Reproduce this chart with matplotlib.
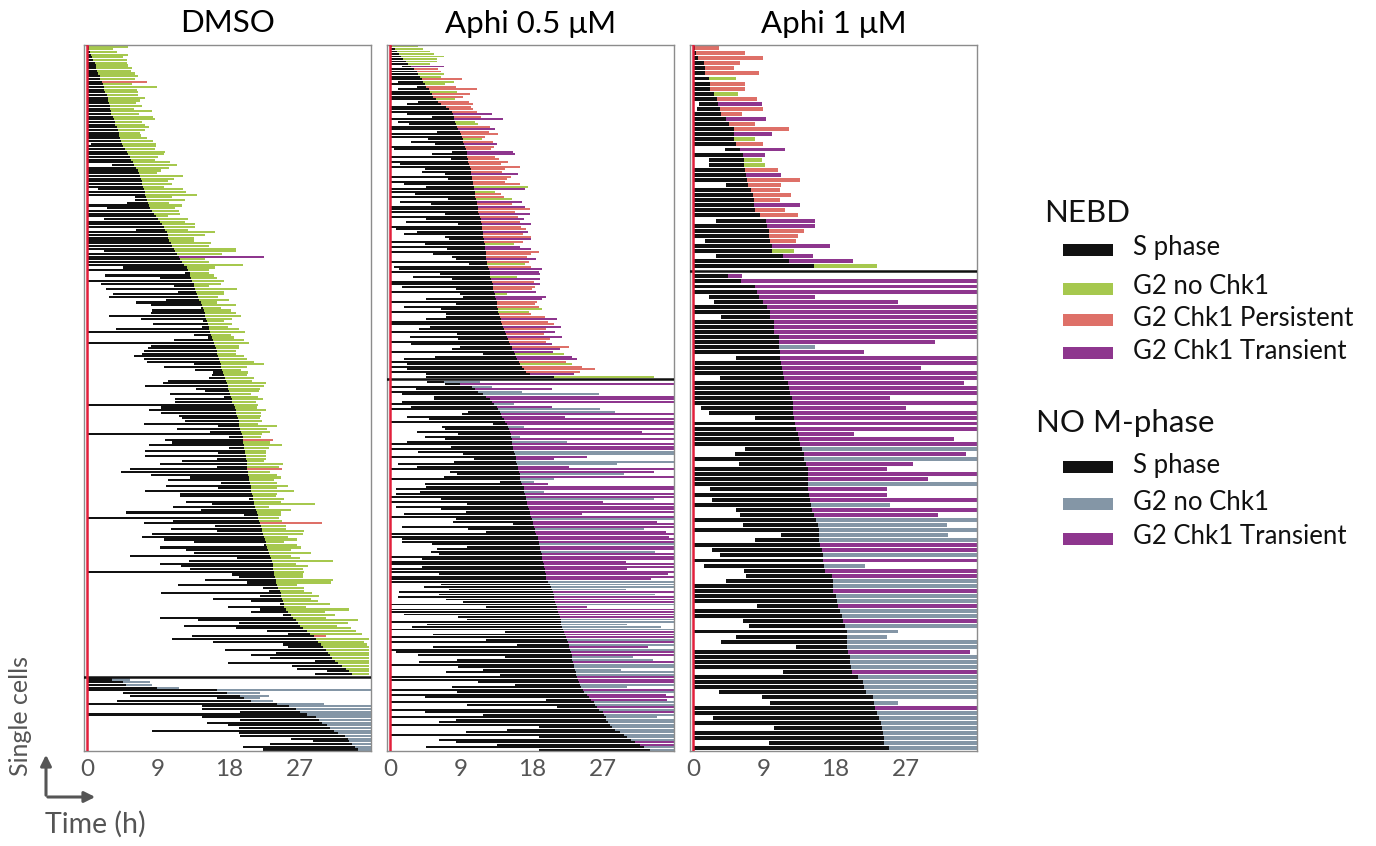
import numpy as np
import matplotlib
matplotlib.use('Agg')
import matplotlib.pyplot as plt
from matplotlib.patches import Rectangle, FancyArrowPatch

plt.rcParams['font.family'] = ['Lato', 'DejaVu Sans']

W, H = 1376, 846

BLACK = '#111111'
GREEN = '#a6c84e'
PINK = '#de7068'
PURPLE = '#8e368e'
GREY = '#8496a6'
RED = '#e2203c'
TXT = '#555555'
COLORS = {'G': GREEN, 'P': PINK, 'T': PURPLE, 'N': GREY}

titles = ['DMSO', 'Aphi 0.5 μM', 'Aphi 1 μM']
xticks = [0, 9, 18, 27]

# ---- DMSO, cells entering mitosis (NEBD) ----
dmso_nebd_start = [
    0, 0, 0, 0, 0, 0, 0, 0, 0, 0,
    0, 0, 0, 0, 0, 0, 0, 0, 0, 0,
    0, 0, 0, 0, 0, 0, 0, 0, 0, 0,
    0, 0, 0, 0, 0, 0, 0.5, 0, 0, 0,
    0, 0, 0, 0, 3.2, 0, 0, 0, 0, 0,
    0, 0, 0, 1.4, 0, 0, 6.1, 6.1, 5.1, 0,
    2.5, 0, 0, 0, 2.2, 0, 0, 0, 6.2, 0,
    0, 0, 0, 0, 0, 0, 2.2, 0, 0, 0,
    0, 0, 4.5, 0, 12.4, 2.3, 9.3, 0, 1.8, 11.0,
    2.4, 11.5, 3.3, 2.8, 10.0, 6.2, 8.1, 14.4, 8.2, 8.1,
    2.8, 6.8, 14.7, 8.3, 14.5, 3.7, 0, 13.5, 15.3, 11.0,
    0, 8.1, 7.7, 7.2, 7.0, 6.0, 7.2, 7.6, 13.5, 9.8,
    13.7, 16.0, 15.8, 15.5, 10.2, 9.6, 7.4, 13.8, 15.0, 10.5,
    17.4, 11.2, 11.1, 0, 9.4, 7.8, 9.4, 11.6, 12.0, 12.4,
    7.2, 16.6, 11.4, 15.6, 0, 18.0, 9.9, 10.7, 7.9, 18.0,
    7.4, 16.6,
    7.4, 16.4, 12.0, 9.2, 16.4, 5.4, 4.3, 8.1, 13.0, 10.2,
    16.9, 10.0, 16.6, 7.3, 11.8, 11.8, 20.5, 12.5, 15.8, 10.9,
    14.4, 4.9, 19.9, 0, 10.9, 7.2, 16.2, 10.6, 16.4, 8.2,
    6.9, 9.7, 13.5, 22.4, 9.2, 12.5, 13.5, 5.5, 19.0, 12.9,
    9.2, 11.9, 13.0, 0, 18.4, 19.2, 14.9, 20.2, 11.5, 22.3,
    23.0, 9.4, 21.9, 15.9, 20.8, 24.4, 17.9, 21.9, 20.8, 24.8,
    9.3, 14.0, 19.2, 12.3, 18.9, 22.8, 25.5, 13.3, 10.8, 15.9,
    24.8, 25.5, 17.5, 23.9, 20.7, 23.2, 28.8, 17.9, 25.9, 26.6,
    30.4, 28.9,
]
dmso_nebd_send = [
    0.2, 0.3, 0.4, 0.5, 0.6, 0.8, 1.0, 1.1, 1.2, 1.3,
    1.4, 1.6, 1.7, 1.9, 2.0, 2.1, 2.2, 2.3, 2.5, 2.6,
    2.7, 2.8, 2.9, 2.9, 3.0, 3.1, 3.3, 3.4, 3.5, 3.6,
    3.8, 3.9, 4.0, 4.1, 4.2, 4.3, 4.4, 4.6, 4.8, 5.0,
    5.2, 5.4, 5.6, 5.8, 6.0, 6.2, 6.4, 6.6, 6.7, 6.8,
    6.9, 7.0, 7.1, 7.2, 7.3, 7.4, 7.5, 7.6, 7.7, 7.9,
    8.0, 8.2, 8.5, 8.7, 9.0, 9.3, 9.5, 9.7, 9.9, 10.1,
    10.2, 10.3, 10.4, 10.6, 10.8, 11.0, 11.2, 11.4, 11.6, 11.8,
    12.0, 12.3, 12.6, 12.8, 13.0, 13.1, 13.2, 13.3, 13.5, 13.6,
    13.7, 13.8, 13.9, 14.0, 14.2, 14.4, 14.6, 14.7, 14.8, 14.9,
    15.0, 15.1, 15.2, 15.3, 15.4, 15.5, 15.6, 15.7, 15.8, 16.0,
    16.1, 16.2, 16.3, 16.4, 16.5, 16.6, 16.7, 16.8, 16.9, 17.0,
    17.1, 17.2, 17.3, 17.5, 17.6, 17.7, 17.8, 17.9, 18.0, 18.1,
    18.2, 18.3, 18.4, 18.6, 18.7, 18.8, 18.9, 19.0, 19.1, 19.2,
    19.2, 19.3, 19.4, 19.5, 19.6, 19.7, 19.7, 19.8, 19.9, 19.9,
    20.0, 20.0, 20.1, 20.1, 20.2, 20.2, 20.3, 20.3, 20.4, 20.4,
    20.5, 20.5, 20.6, 20.7, 20.7, 20.8, 20.9, 21.0, 21.0, 21.1,
    21.2, 21.3, 21.4, 21.5, 21.6, 21.7, 21.8, 21.9, 22.0, 22.1,
    22.2, 22.3, 22.4, 22.5, 22.6, 22.7, 22.8, 22.9, 23.0, 23.2,
    23.3, 23.4, 23.5, 23.5, 23.6, 23.7, 23.7, 23.8, 23.9, 23.9,
    24.0, 24.2, 24.4, 24.5, 24.6, 24.7, 24.8, 24.9, 25.0, 25.2,
    25.5, 25.8, 26.1, 26.4, 26.7, 27.0, 27.4, 27.8, 28.2, 28.7,
    29.0, 29.3, 29.6, 29.9, 30.2, 30.5, 30.8, 31.0, 31.4, 31.8,
    32.3, 32.8, 33.2, 33.5,
]
dmso_nebd_g2end = [
    5.2, 3.3, 3.8, 5.2, 4.5, 5.0, 5.1, 5.2, 5.7, 5.6,
    6.1, 6.5, 6.1, 7.6, 5.7, 8.9, 6.3, 6.5, 6.4, 7.3,
    6.7, 6.2, 6.9, 5.9, 8.2, 6.6, 8.4, 8.6, 7.0, 7.4,
    7.8, 7.3, 6.7, 6.8, 7.6, 8.4, 8.7, 8.7, 8.6, 9.9,
    9.7, 9.0, 8.6, 10.5, 11.4, 10.4, 9.4, 8.9, 12.1, 11.0,
    10.2, 10.7, 9.7, 12.2, 12.5, 13.9, 10.7, 12.4, 10.4, 12.0,
    11.1, 11.6, 11.8, 10.3, 12.8, 12.4, 13.7, 13.7, 12.8, 16.2,
    15.0, 13.5, 13.5,
    15.7, 15.4, 18.8, 18.8, 17.1, 22.4, 15.0, 15.4, 19.7, 16.2,
    15.4, 15.5, 16.1, 16.5, 17.3, 16.9, 15.4, 19.0, 17.3, 17.3,
    16.6, 18.0, 16.4, 18.8, 16.9, 18.2, 18.9, 19.5, 18.4, 17.3,
    18.4, 17.8, 19.2, 20.0, 18.2, 18.6, 19.9, 20.5, 19.2, 19.2,
    18.8, 18.9, 19.9, 20.3, 21.1, 22.4, 20.3, 19.5, 20.4, 20.3,
    21.1, 20.9, 22.7, 22.4, 21.9, 21.8, 20.7, 21.6, 22.3, 21.4,
    21.6, 21.5, 22.6, 22.0, 22.0, 21.9, 22.2, 21.6, 24.0, 22.8,
    23.2, 22.2, 22.0, 23.6, 23.2, 24.7, 23.0, 22.7, 22.6,
    22.6, 22.6, 22.4, 24.8, 24.3, 24.7, 23.2, 24.1, 24.5, 23.7,
    24.0, 25.4, 24.1, 26.2, 24.0, 23.9, 24.9, 24.5, 28.8, 23.0,
    25.8, 24.5, 24.5, 24.3, 24.7, 29.7, 25.2, 25.2, 27.5, 27.3,
    25.4, 26.6, 24.9, 26.6, 27.1, 25.8, 28.4, 25.8, 27.0, 31.1,
    26.4, 28.0, 27.3, 27.5, 27.3, 27.3, 31.2, 30.9, 26.6, 27.5,
    27.5, 28.5, 29.4, 28.3, 29.2, 30.8, 27.7, 33.2, 30.1, 31.4,
    30.2, 34.3, 33.0, 31.7, 33.4, 34.0, 34.8, 30.2, 35.7, 35.1,
    35.5, 35.7, 35.7, 35.7, 35.7, 35.7, 35.7, 35.7, 35.7, 35.7,
    35.7, 35.7,
]
# G = G2 no Chk1, P = G2 Chk1 persistent, T = G2 Chk1 transient, N = G2 no Chk1 (no M-phase)
dmso_nebd_kind = (
    "GGGGGGGGGG GGGPGGGGGG GGGGGGGGGG GGGGGGGGGG GGGGGGGGGG "
    "GGGGGGGGGG GGGGGGGGGG GGGGGGGGTG GGGGGGGGGG GGGGGGGGGG "
    "GGGGGGGGGG GGGGGGGGGG GGGGGGGGGG GGGGGGGGGG GGGGGGPGGG "
    "GGGGGGGPGG GGGGGGGGGG GGGGGGGPGG GGGGGGGGGG GGGGGGGGGG "
    "GGGGGGGGGG GGGGGGGGGP GGGGGGGGGG GGGG"
)

# ---- DMSO, no M-phase ----
dmso_nom_start = [0, 0, 0, 0, 0, 4.6, 5.4, 16.5, 3.8, 0,
                  14.6, 14.6, 19.4, 0, 14.5, 19.4, 15.2, 17.8, 19.2, 8.2,
                  19.2, 19.4, 25.8, 28.6, 23.2, 19.7, 22.3]
dmso_nom_send = [3.2, 4.6, 4.9, 8.8, 16.4, 17.7, 19.4, 19.9, 20.8, 24.0,
                 25.6, 26.4, 27.0, 27.8, 29.0, 29.4, 29.7, 30.4, 30.8, 31.3,
                 31.8, 32.7, 33.0, 33.2, 33.5, 33.9, 34.3]
dmso_nom_g2end = [5.5, 8.0, 8.2, 11.7, 36, 21.9, 23.0, 21.9, 23.5, 30.0,
                  36, 36, 36, 36, 36, 36, 36, 36, 36, 36,
                  36, 36, 36, 36, 36, 36, 36]
dmso_nom_kind = "NNNNNNNNNN NNNNNNNNNN NNNNNNN"

# ---- Aphi 0.5 uM, NEBD ----
a05_nebd_start = [
    0, 0, 0, 0, 0, 0, 0, 0, 1.5, 0,
    0, 0, 0, 0, 1.0, 0, 3.4, 1.0, 0, 0,
    0, 0, 3.6, 2.1, 0, 0, 0, 2.1, 5.3, 0,
    1.0, 2.4, 0, 0, 5.9, 0, 0, 4.8, 2.7, 5.7,
    0, 0.5, 7.9, 5.3, 0, 7.7, 0, 1.3, 0, 4.4,
    4.0, 6.9, 0, 7.3, 0, 1.8, 4.6, 0, 0, 3.2,
    0, 7.3, 1.3, 5.2, 0, 0, 0, 6.9, 0, 4.6,
    2.0, 8.6, 0, 0.7, 3.4, 1.8, 7.0, 7.5, 0, 4.4,
    0, 7.2, 0, 5.5, 7.8, 8.4, 0, 10.0, 0.5, 1.2,
    0, 6.3, 2.9, 7.8, 0, 0, 1.5, 8.4, 0, 8.8,
    9.2, 4.6, 0, 8.3, 1.8, 6.5, 0, 7.1, 7.1, 4.6,
    0, 0, 5.1, 3.7, 0, 8.5, 2.5, 8.6, 0, 2.6,
    8.9, 7.8, 0, 11.8, 5.7, 1.8, 0, 2.1, 0, 2.1,
    0, 4.6, 4.6,
]
a05_nebd_send = [
    0.3, 0.6, 0.9, 1.2, 1.4, 1.7, 2.0, 2.3, 2.7, 3.1,
    3.4, 3.6, 3.8, 4.0, 4.2, 4.4, 4.6, 4.9, 5.1, 5.3,
    5.5, 5.8, 6.1, 6.5, 7.1, 7.5, 7.8, 8.0, 8.1, 8.1,
    8.2, 8.3, 8.5, 8.6, 8.8, 9.0, 9.1, 9.2, 9.3, 9.4,
    9.5, 9.6, 9.7, 9.8, 9.8, 9.9, 9.9, 10.0, 10.1, 10.2,
    10.2, 10.3, 10.4, 10.4, 10.5, 10.5, 10.6, 10.6, 10.7, 10.8,
    10.8, 10.9, 11.0, 11.0, 11.1, 11.1, 11.2, 11.3, 11.4, 11.5,
    11.5, 11.6, 11.7, 11.7, 11.8, 11.8, 11.8, 11.9, 11.9, 12.0,
    12.0, 12.0, 12.1, 12.1, 12.2, 12.2, 12.3, 12.3, 12.4, 12.5,
    12.6, 12.6, 12.7, 12.8, 12.9, 13.0, 13.0, 13.1, 13.2, 13.3,
    13.3, 13.4, 13.5, 13.5, 13.6, 13.7, 13.7, 13.8, 13.9, 14.0,
    14.1, 14.2, 14.3, 14.4, 14.6, 14.7, 14.8, 15.0, 15.1, 15.2,
    15.4, 15.5, 15.7, 15.8, 16.0, 16.1, 16.3, 16.5, 16.7, 16.9,
    17.2, 17.7, 20.7,
]
a05_nebd_g2end = [
    3.6, 4.2, 5.1, 5.6, 6.8, 6.0, 5.9, 5.0, 6.8, 6.1,
    6.4, 6.8, 6.5, 9.1, 8.1, 7.0, 8.4, 11.0, 8.5, 10.1,
    9.3, 8.2, 10.0, 10.5, 10.2, 10.5, 11.0, 12.9, 11.5, 14.3,
    10.8, 11.2, 12.7, 13.3, 12.5, 13.7, 12.0, 11.6, 13.0, 13.5,
    13.2, 12.8, 15.6, 15.8, 13.3, 13.8, 15.0, 14.0, 16.5, 14.6,
    14.2, 16.2, 15.3, 14.8, 14.5, 16.5, 17.5, 17.1, 13.3, 14.1,
    14.4, 15.4, 16.7, 15.5, 17.1, 17.7, 15.8, 17.7, 16.2, 17.0,
    16.5, 17.8, 16.6, 17.2, 17.5, 16.8, 17.8, 17.9, 16.8, 15.7,
    16.5, 17.8, 18.8, 17.8, 17.4, 18.5, 17.6, 17.1, 17.9, 19.2,
    18.8, 19.0, 16.1, 19.0, 18.2, 19.0, 18.4, 18.0, 18.5, 14.8,
    19.7, 19.3, 18.6, 18.4, 18.9, 19.2, 17.6, 17.8, 19.6, 21.1,
    20.0, 20.7, 21.6, 19.8, 20.9, 19.5, 21.8, 20.3, 19.8, 20.5,
    22.6, 21.5, 20.6, 22.0, 23.0, 23.7, 22.3, 23.0, 24.3, 26.0,
    24.0, 23.3, 33.4,
]
a05_nebd_kind = (
    "GGGGGGGGTP PGGPGGPPGP PGPPPPPTPT GGPTPPPGPT PPTTPPPPPP "
    "PTPPPPGTGP PGTPTPPTPT PTPPTPPTPG TTPPPTPGPT TTGTPTPPTG "
    "TTPPPGGPPT PPTPTPTPPT PTTGTTPGPP PTG"
)

# ---- Aphi 0.5 uM, no M-phase ----
a05_nom_start = [
    4.7, 6.9, 0, 3.3, 0, 1.5, 5.6, 5.6, 1.5, 0,
    2.6, 0, 9.9, 9.1, 2.1, 4.9, 0, 13.0, 6.6, 7.0,
    3.4, 8.6, 4.4, 6.9, 2.1, 0, 7.7, 0, 3.6, 9.2,
    0, 10.6, 8.1, 1.0, 3.4, 0, 7.6, 8.5, 6.8, 0,
    13.9, 4.4, 4.6, 0.8, 3.8, 0.8, 0, 6.5, 0, 9.7,
    0.8, 6.5, 9.6, 1.8, 0, 8.4, 8.0, 15.6, 1.5, 9.9,
    12.2, 0, 0, 1.5, 1.5, 5.3, 9.8, 5.9, 5.2, 6.2,
    0, 4.0, 0, 0, 4.1, 0, 0, 6.2, 0, 0,
    0, 6.5, 4.3, 7.5, 1.1, 6.2, 1.0, 7.1, 9.2, 0,
    12.1, 0, 0, 1.8, 8.6, 9.7, 0, 4.7, 2.8, 0,
    14.6, 5.4, 0, 12.1, 0, 16.1, 5.5, 0, 0.8, 3.5,
    14.6, 8.5, 3.7, 0, 8.6, 11.8, 7.1, 13.9, 0, 0,
    11.2, 15.8, 7.8, 0, 8.5, 0, 4.4, 19.7, 0, 9.7,
    21.1, 0, 4.4, 11.8, 0, 8.3, 6.2, 0, 18.8, 14.8,
    9.6, 0, 18.9, 6.2, 8.3, 13.5, 4.6, 18.8,
]
a05_nom_send = [
    6.8, 8.9, 10.4, 10.8, 11.2, 11.8, 12.2, 12.6, 12.9, 13.2,
    13.5, 13.7, 13.9, 14.0, 14.2, 14.4, 14.5, 14.8, 15.0, 15.1,
    15.2, 15.3, 15.3, 15.4, 15.4, 15.5, 15.6, 15.6, 15.7, 15.8,
    15.9, 15.9, 16.0, 16.1, 16.2, 16.2, 16.3, 16.4, 16.5, 16.5,
    16.6, 16.7, 16.9, 16.9, 17.0, 17.1, 17.2, 17.2, 17.3, 17.4,
    17.5, 17.6, 17.7, 17.7, 17.8, 18.0, 18.1, 18.1, 18.2, 18.3,
    18.4, 18.5, 18.7, 18.7, 18.8, 18.9, 19.0, 19.0, 19.1, 19.2,
    19.2, 19.3, 19.4, 19.5, 19.5, 19.6, 19.6, 19.7, 19.7, 19.8,
    20.0, 20.3, 20.4, 20.5, 20.6, 20.7, 20.7, 20.8, 20.9, 21.0,
    21.1, 21.2, 21.3, 21.4, 21.5, 21.6, 21.6, 21.7, 21.8, 21.9,
    22.0, 22.1, 22.3, 22.4, 22.5, 22.6, 22.7, 22.8, 22.9, 23.0,
    23.0, 23.1, 23.2, 23.3, 23.3, 23.4, 23.5, 23.6, 23.7, 23.8,
    23.9, 24.0, 24.2, 24.4, 24.6, 24.9, 25.2, 25.5, 25.8, 26.0,
    26.2, 26.5, 26.9, 27.1, 27.3, 27.4, 27.6, 27.9, 28.1, 28.5,
    29.1, 29.6, 30.0, 30.5, 31.0, 31.6, 32.2, 32.9,
]
a05_nom_g2end = [
    11.4, 36, 12.9, 20.5, 16.7, 26.4, 36, 36, 36, 15.7,
    20.5, 26.6, 28.5, 36, 22.2, 36, 36, 36, 16.9, 36,
    31.9, 36, 16.5, 36, 22.4, 36, 36, 36, 36, 36,
    24.9, 20.7, 36, 28.7, 22.6, 36, 33.4, 29.6, 36, 20.7,
    18.2, 20.0, 36, 36, 19.5, 36, 36, 33.4, 27.0, 36,
    36, 36, 36, 24.3, 36, 36, 33.8, 36, 36, 32.1,
    34.9, 36, 35.3, 36, 36, 36, 36, 36, 33.6, 36,
    36, 36, 29.9, 36, 36, 30.0, 36, 35.2, 36, 33.1,
    36, 36, 36, 29.9, 36, 33.5, 36, 36, 36, 36,
    24.9, 36, 36, 36, 36, 36, 36, 30.0, 34.3, 36,
    36, 36, 36, 36, 36, 36, 32.7, 36, 36, 36,
    30.8, 33.3, 36, 36, 36, 29.2, 36, 36, 36, 36,
    36, 36, 30.0, 36, 36, 34.9, 36, 35.1, 36, 36,
    36, 36, 36, 36, 33.8, 36, 36, 36, 36, 36,
    36, 36, 36, 36, 36, 36, 36, 36,
]
a05_nom_kind = (
    "NTNTNNTTTN TNNTTTTTNT TTNTNTTTNN TTNNTTTNTN NTTTNTTNTT "
    "TTTTTNTTTN TTTTTNTTNT TTTTTTTTTT NNNNTNTTTN TTTTTNNNNN "
    "TTTNTNTNTT NNTNNNNNTT TNNTNTTTNN TNTNNNNNNN NNNNTTNN"
)

# ---- Aphi 1 uM, NEBD ----
a1_nebd_start = [0, 0, 0, 0, 0, 0, 0, 0, 0, 0,
                 0, 0.8, 0.5, 0, 0, 0, 0, 0, 0, 0,
                 4.1, 0, 2.0, 2.0, 0, 0, 0, 4.2, 0, 0,
                 0, 0, 0, 0, 2.9, 0, 0, 0, 1.5, 0,
                 0, 2.9, 0, 0]
a1_nebd_send = [0.3, 0.4, 0.6, 1.4, 1.5, 1.5, 2.0, 2.1, 2.1, 2.7,
                3.1, 3.2, 3.4, 3.5, 4.2, 4.6, 5.2, 5.2, 5.2, 5.4,
                5.9, 6.3, 6.4, 6.5, 6.6, 6.7, 6.8, 7.0, 7.4, 7.6,
                7.7, 7.7, 7.9, 8.5, 9.3, 9.4, 9.6, 9.6, 9.8, 10.0,
                10.0, 11.4, 12.1, 15.3]
a1_nebd_g2end = [3.3, 6.6, 8.9, 5.9, 5.2, 8.3, 5.4, 6.6, 6.6, 5.7,
                 8.1, 8.7, 8.9, 6.2, 9.3, 7.8, 12.2, 10.0, 7.8, 8.8,
                 11.6, 9.1, 8.7, 9.1, 10.7, 11.1, 13.6, 11.1, 11.0, 12.4,
                 11.0, 13.6, 11.7, 13.3, 15.4, 15.5, 14.0, 13.3, 13.0, 17.3,
                 12.8, 15.2, 20.2, 23.3]
a1_nebd_kind = "PPPPPPGPPG PTPPTPPTGP TTGGPTPPPP PTPPTTPPPT GTTG"

# ---- Aphi 1 uM, no M-phase ----
a1_nom_start = [0, 0, 0, 0, 2.0, 2.6, 0, 0, 3.6, 0,
                0, 0, 0, 0, 0, 0, 5.5, 0.2, 0, 0,
                3.4, 0, 0, 0, 0, 0, 1.0, 2.0, 7.8, 0,
                0, 0, 0, 0, 6.6, 5.3, 0, 5.8, 0, 0,
                0, 0, 2.1, 0, 2.4, 0, 5.5, 5.9, 0, 6.3,
                0, 11.1, 7.9, 0, 2.4, 3.4, 0, 1.4, 6.5, 6.7,
                4.2, 0, 0, 0, 0, 8.1, 0, 0, 6.3, 7.1,
                0, 5.4, 3.5, 13.1, 0, 0, 0, 0, 11.4, 0,
                0, 0, 3.3, 8.7, 9.7, 0, 0, 2.5, 0, 10.3,
                0, 0, 9.6, 0]
a1_nom_send = [4.4, 6.1, 7.9, 8.1, 8.4, 8.9, 9.4, 9.7, 9.8, 10.2,
               10.2, 10.2, 10.9, 10.9, 10.9, 11.0, 11.0, 11.2, 11.3, 11.4,
               11.5, 12.0, 12.2, 12.3, 12.5, 12.6, 12.7, 12.7, 12.8, 12.9,
               13.1, 13.3, 13.4, 13.6, 13.8, 14.1, 14.1, 14.3, 14.5, 14.5,
               14.5, 14.5, 14.5, 14.7, 14.8, 14.9, 15.1, 15.3, 15.6, 15.8,
               15.9, 15.9, 16.0, 16.1, 16.3, 16.4, 16.5, 16.6, 16.7, 17.6,
               17.7, 17.7, 17.7, 18.1, 18.2, 18.4, 18.6, 18.9, 19.0, 19.3,
               19.5, 19.5, 19.5, 19.5, 19.6, 19.9, 19.9, 20.0, 20.1, 20.9,
               21.5, 21.6, 21.9, 22.8, 22.9, 23.1, 23.3, 23.5, 23.8, 23.9,
               24.1, 24.2, 24.2, 24.8]
a1_nom_g2end = [6.2, 36, 36, 36, 15.4, 25.9, 36, 36, 36, 36,
                36, 36, 36, 30.6, 15.4, 21.7, 36, 36, 28.9, 36,
                36, 34.3, 36, 36, 24.9, 36, 27.0, 36, 36, 36,
                36, 20.4, 33.0, 36, 36, 34.6, 36, 27.8, 24.5, 36,
                29.8, 36, 24.6, 24.6, 36, 24.9, 36, 31.0, 36, 32.1,
                36, 32.3, 36, 36, 36, 36, 36, 21.8, 36, 36,
                36, 36, 36, 36, 36, 36, 36, 36, 36, 36,
                25.9, 24.5, 36, 36, 35.1, 36, 36, 36, 36, 36,
                36, 36, 36, 36, 26.0, 36, 36, 36, 36, 36,
                36, 36, 36, 36]
a1_nom_kind = (
    "TTTTTTTTTT TTTTNTTTTT TTTTTTTTTT TTTTNTNTTT TNTTTNTTNN "
    "NNNTTNTNTT NNTNNTNNTN NNNNTNNNTN NNNNNTNNNN NNNN"
)


def draw_block(ax, y0, start, send, g2end, kind):
    kind = kind.replace(' ', '')
    assert len(start) == len(send) == len(g2end) == len(kind), \
        (len(start), len(send), len(g2end), len(kind))
    start = np.array(start, float)
    send = np.array(send, float)
    g2end = np.array(g2end, float)
    y = y0 + np.arange(len(send))
    ax.barh(y, send - start, left=start, height=0.78, color=BLACK, linewidth=0)
    ax.barh(y, g2end - send, left=send, height=0.78,
            color=[COLORS[k] for k in kind], linewidth=0)
    return len(send)


fig = plt.figure(figsize=(W / 100, H / 100), dpi=100)

blocks = [
    (dmso_nebd_start, dmso_nebd_send, dmso_nebd_g2end, dmso_nebd_kind,
     dmso_nom_start, dmso_nom_send, dmso_nom_g2end, dmso_nom_kind),
    (a05_nebd_start, a05_nebd_send, a05_nebd_g2end, a05_nebd_kind,
     a05_nom_start, a05_nom_send, a05_nom_g2end, a05_nom_kind),
    (a1_nebd_start, a1_nebd_send, a1_nebd_g2end, a1_nebd_kind,
     a1_nom_start, a1_nom_send, a1_nom_g2end, a1_nom_kind),
]
lefts = [84, 387, 690]

for k, (title, b, lx) in enumerate(zip(titles, blocks, lefts)):
    ax = fig.add_axes([lx / W, 1 - 751 / H, 287 / W, 706 / H])
    n1 = draw_block(ax, 0, *b[:4])
    n2 = draw_block(ax, n1 + 1, *b[4:])
    ax.axhline(n1, color=BLACK, lw=1.8, zorder=3)
    ax.axvline(0, color=RED, lw=1.8, zorder=4)
    ax.set_xlim(-0.38, 35.95)
    ax.set_ylim(n1 + 1 + n2 - 0.45, -0.6)
    ax.set_xticks(xticks)
    ax.set_yticks([])
    ax.tick_params(axis='x', length=0, pad=6, labelsize=17.5, labelcolor=TXT)
    for sp in ax.spines.values():
        sp.set_color('#8c8c8c')
        sp.set_linewidth(1.0)
    ax.set_title(title, fontsize=22.5, pad=9)


def fx(x):
    return x / W


def fy(y):
    return 1 - y / H


# legend
def header(x, y, s):
    fig.text(fx(x), fy(y), s, fontsize=22.5, ha='left', va='center', color=BLACK)


def item(y, color, s):
    fig.add_artist(Rectangle((fx(1063), fy(y + 6)), 50 / W, 12 / H,
                             transform=fig.transFigure, color=color, lw=0))
    fig.text(fx(1133), fy(y - 2), s, fontsize=18.5, ha='left', va='center', color=BLACK)


header(1044, 213, 'NEBD')
item(250, BLACK, 'S phase')
item(289, GREEN, 'G2 no Chk1')
item(320, PINK, 'G2 Chk1 Persistent')
item(353, PURPLE, 'G2 Chk1 Transient')
header(1036, 423, 'NO M-phase')
item(467, BLACK, 'S phase')
item(504, GREY, 'G2 no Chk1')
item(539, PURPLE, 'G2 Chk1 Transient')

# axis hint at bottom left
fig.add_artist(FancyArrowPatch((fx(46), fy(798)), (fx(46), fy(752)),
                               transform=fig.transFigure, arrowstyle='-|>',
                               mutation_scale=16, color=TXT, lw=2.2))
fig.add_artist(FancyArrowPatch((fx(45), fy(797)), (fx(98), fy(797)),
                               transform=fig.transFigure, arrowstyle='-|>',
                               mutation_scale=16, color=TXT, lw=2.2))
fig.text(fx(21), fy(716), 'Single cells', rotation=90, fontsize=18,
         ha='center', va='center', color=TXT)
fig.text(fx(45), fy(824), 'Time (h)', fontsize=20.5, ha='left', va='center', color=TXT)

fig.savefig('out.png', dpi=100)
